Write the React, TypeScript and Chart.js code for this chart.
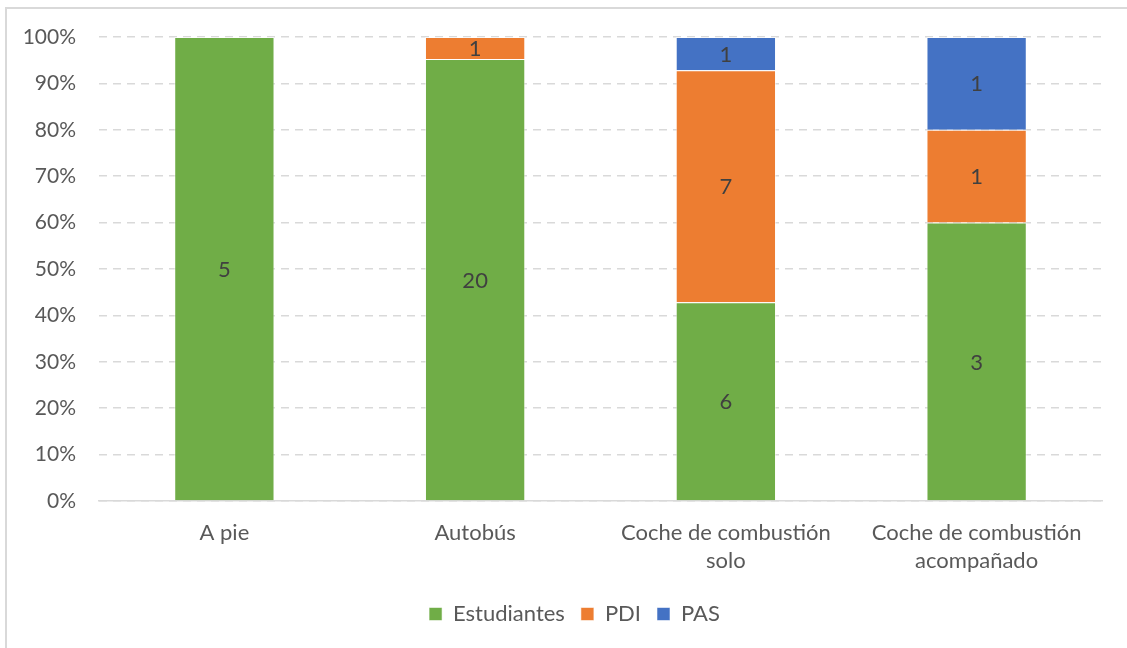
import React, { useEffect, useRef } from "react";
import { Chart, registerables } from "chart.js";

Chart.register(...registerables);

const categories: (string | string[])[] = [
  "A pie",
  "Autobús",
  ["Coche de combustión", "solo"],
  ["Coche de combustión", "acompañado"],
];

const estudiantes = [5, 20, 6, 3];
const pdi = [0, 1, 7, 1];
const pas = [0, 0, 1, 1];

const seriesNames = ["Estudiantes", "PDI", "PAS"];
const seriesColors = ["#70AD47", "#ED7D31", "#4472C4"];
const yTicks = [0, 10, 20, 30, 40, 50, 60, 70, 80, 90, 100];

const FONT = "Lato, 'Open Sans', sans-serif";
const TEXT = "#595959";
const GRID = "#d9d9d9";

const counts = [estudiantes, pdi, pas];
const totals = categories.map((_, i) => counts.reduce((s, arr) => s + arr[i], 0));
const shares = counts.map((arr) => arr.map((v, i) => (v / totals[i]) * 100));

// Writes the raw count in the middle of every non-empty segment
const countLabels = {
  id: "countLabels",
  afterDatasetsDraw(chart: any) {
    const ctx = chart.ctx;
    ctx.save();
    ctx.font = `22px ${FONT}`;
    ctx.fillStyle = "#404040";
    ctx.textAlign = "center";
    ctx.textBaseline = "middle";
    chart.data.datasets.forEach((ds: any, di: number) => {
      const meta = chart.getDatasetMeta(di);
      meta.data.forEach((bar: any, i: number) => {
        const n = counts[di][i];
        if (!n) return;
        const mid = (bar.y + bar.base) / 2;
        ctx.fillText(String(n), bar.x, mid + 1);
      });
    });
    ctx.restore();
  },
};

// Centres the legend under the whole framed area rather than the canvas minus right padding
const legendOffset = {
  id: "legendOffset",
  afterLayout(chart: any) {
    if (chart.legend) chart.legend.left = 47;
  },
};

export default function App() {
  const ref = useRef<HTMLCanvasElement | null>(null);

  useEffect(() => {
    if (!ref.current) return;
    const chart = new Chart(ref.current, {
      type: "bar",
      data: {
        labels: categories,
        datasets: seriesNames.map((name, k) => ({
          label: name,
          data: shares[k],
          backgroundColor: seriesColors[k],
          borderColor: "rgba(255,255,255,0.55)",
          borderWidth: 1,
          categoryPercentage: 0.8,
          barPercentage: 0.5,
        })),
      },
      options: {
        responsive: false,
        animation: false,
        layout: { padding: { top: 37, right: 25, bottom: 13, left: 0 } },
        plugins: {
          tooltip: { enabled: false },
          legend: {
            position: "bottom",
            labels: {
              font: { family: FONT, size: 22 },
              color: TEXT,
              boxWidth: 13,
              boxHeight: 13,
              padding: 16,
            },
          },
        },
        scales: {
          x: {
            stacked: true,
            grid: { display: false, drawTicks: false },
            border: { display: true, color: GRID, width: 1.5 },
            ticks: {
              font: { family: FONT, size: 22, lineHeight: 1.27 },
              color: TEXT,
              padding: 18,
              maxRotation: 0,
              autoSkip: false,
            },
            afterFit: (s: any) => {
              s.height = 86;
            },
          },
          y: {
            stacked: true,
            min: 0,
            max: 100,
            afterBuildTicks: (s: any) => {
              s.ticks = yTicks.map((v) => ({ value: v }));
            },
            grid: { color: GRID, lineWidth: 1.5, drawTicks: false },
            border: { display: false, dash: [8, 6] },
            ticks: {
              font: { family: FONT, size: 21 },
              color: TEXT,
              padding: 23,
              callback: (v: any) => `${v}%`,
            },
            afterFit: (s: any) => {
              s.width = 99;
            },
          },
        },
      },
      plugins: [countLabels, legendOffset],
    });
    return () => chart.destroy();
  }, []);

  return (
    <div style={{ position: "fixed", left: 0, top: 0, width: 1127, height: 648, overflow: "hidden", background: "#fff" }}>
      <div
        style={{
          position: "absolute",
          left: 5,
          top: 7,
          width: 1300,
          height: 800,
          borderLeft: `2px solid ${GRID}`,
          borderTop: `2px solid ${GRID}`,
        }}
      />
      <canvas ref={ref} width={1127} height={648} style={{ position: "absolute", left: 0, top: 0 }} />
    </div>
  );
}
